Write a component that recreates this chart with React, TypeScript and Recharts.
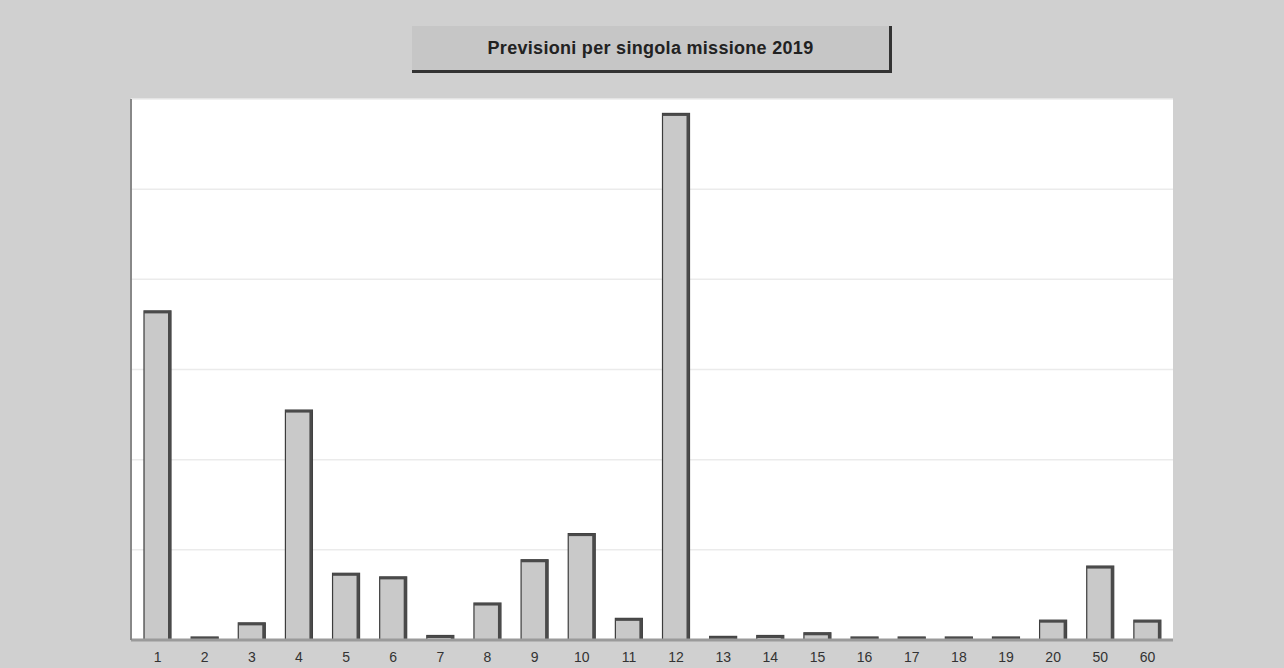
import { BarChart, Bar, XAxis, YAxis, CartesianGrid } from "recharts";

const categories = ["1", "2", "3", "4", "5", "6", "7", "8", "9", "10", "11", "12", "13", "14", "15", "16", "17", "18", "19", "20", "50", "60"];
const values = [3.65, 0.02, 0.19, 2.55, 0.74, 0.7, 0.05, 0.41, 0.89, 1.18, 0.24, 5.84, 0.04, 0.05, 0.08, 0.03, 0.03, 0.03, 0.03, 0.22, 0.82, 0.22];
const yTicks = [0, 1, 2, 3, 4, 5, 6];
const title = "Previsioni per singola missione 2019";

const data = categories.map((c, i) => ({ name: c, value: values[i] }));

// bar with a dark right edge and top, like the old 3D look
function Bar3D(props: any) {
  const { x, y, width, height } = props;
  const h = Math.max(height, 3);
  const top = y + height - h;
  return (
    <g>
      <rect x={x} y={top} width={width} height={h} fill="#c9c9c9" stroke="#3c3c3c" strokeWidth={1.2} />
      <rect x={x + width - 3} y={top} width={3} height={h} fill="#4a4a4a" />
      <rect x={x} y={top} width={width} height={Math.min(2.5, h)} fill="#4a4a4a" />
    </g>
  );
}

export default function App() {
  return (
    <div
      style={{
        position: "fixed",
        left: 0,
        top: 0,
        width: 1284,
        height: 668,
        background: "#d0d0d0",
        fontFamily: "Arial, 'Liberation Sans', sans-serif",
      }}
    >
      <div
        style={{
          position: "absolute",
          left: 412,
          top: 26,
          width: 477,
          height: 44,
          background: "#c6c6c6",
          borderRight: "3px solid #333",
          borderBottom: "3px solid #333",
          display: "flex",
          alignItems: "center",
          justifyContent: "center",
          fontWeight: "bold",
          fontSize: 18,
          letterSpacing: 0.3,
          color: "#222",
        }}
      >
        {title}
      </div>
      <BarChart
        width={1284}
        height={668}
        data={data}
        margin={{ top: 99, right: 111, bottom: 0, left: 129 }}
        barSize={27}
      >
        <CartesianGrid vertical={false} stroke="#ebebeb" strokeWidth={1.5} fill="#ffffff" />
        <XAxis
          dataKey="name"
          height={28}
          padding={{ left: 3, right: 2 }}
          tickLine={false}
          axisLine={{ stroke: "#9a9a9a", strokeWidth: 3 }}
          tick={{ fontSize: 14, fill: "#333" }}
          tickMargin={6}
          interval={0}
        />
        <YAxis
          width={2}
          domain={[0, 6]}
          ticks={yTicks}
          tick={{ fill: "transparent", fontSize: 1 }}
          tickLine={false}
          axisLine={{ stroke: "#888", strokeWidth: 2 }}
        />
        <Bar dataKey="value" shape={<Bar3D />} isAnimationActive={false} />
      </BarChart>
    </div>
  );
}
